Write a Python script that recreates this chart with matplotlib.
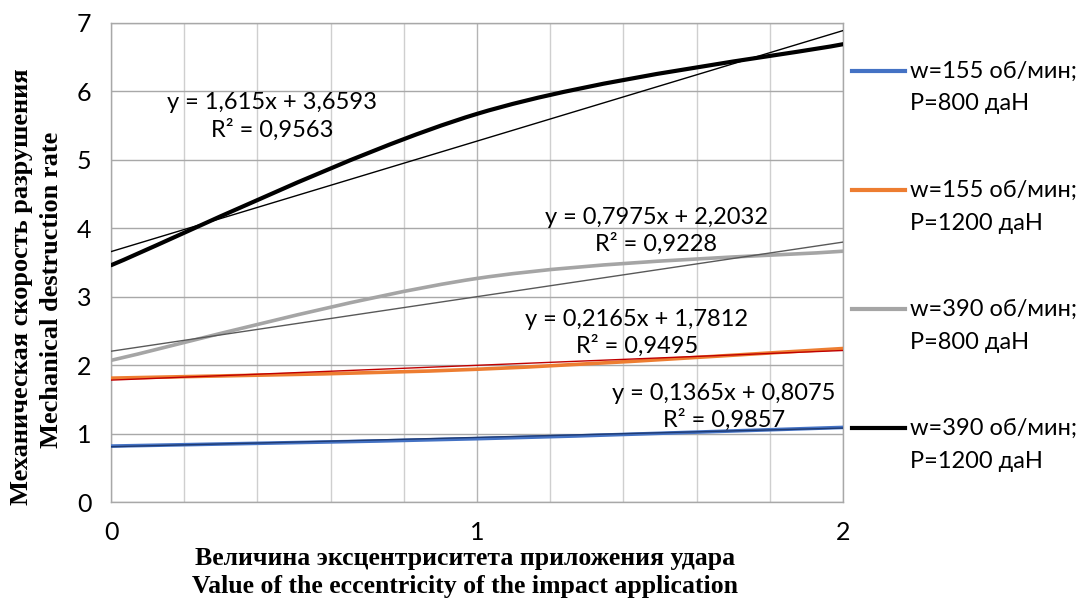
import matplotlib
matplotlib.use('Agg')
import matplotlib.pyplot as plt
from matplotlib.path import Path
from matplotlib.patches import PathPatch
from matplotlib.lines import Line2D
import numpy as np

#======================================================================
# Dados ===============================================================
#======================================================================

x_val = [0, 1, 2]

series_names = ['w=155 об/мин;\nP=800 даН',
                'w=155 об/мин;\nP=1200 даН',
                'w=390 об/мин;\nP=800 даН',
                'w=390 об/мин;\nP=1200 даН']

y_blue   = [0.817, 0.925, 1.090]
y_orange = [1.810, 1.940, 2.243]
y_gray   = [2.070, 3.267, 3.665]
y_black  = [3.460, 5.672, 6.690]

eq_texts = ['y = 0,1365x + 0,8075\nR² = 0,9857',
            'y = 0,2165x + 1,7812\nR² = 0,9495',
            'y = 0,7975x + 2,2032\nR² = 0,9228',
            'y = 1,615x + 3,6593\nR² = 0,9563']

#======================================================================
# Estilos =============================================================
#======================================================================

cores       = ['#4472C4', '#ED7D31', '#A5A5A5', '#000000']
cores_trend = ['#1F3B73', '#C00000', '#595959', '#000000']
eq_pos      = [(1.675, 1.39), (1.437, 2.47), (1.49, 3.96), (0.44, 5.63)]
leg_y       = [71, 190, 309, 428]

SANS = ['Lato', 'DejaVu Sans']
SERIF = ['Liberation Serif', 'DejaVu Serif']

W, H = 1083, 599
fig = plt.figure(figsize=(W/100, H/100), dpi=100)
ax = fig.add_axes([111/W, 1 - 502/H, (843-111)/W, (502-23)/H])

def smooth_path(xs, ys):
    # curva suavizada tipo Excel (Bezier cubica)
    p = list(zip(xs, ys))
    n = len(p)
    verts = [p[0]]
    codes = [Path.MOVETO]
    for i in range(n - 1):
        p0 = p[i - 1] if i > 0 else p[i]
        p1 = p[i]
        p2 = p[i + 1]
        p3 = p[i + 2] if i + 2 < n else p[i + 1]
        c1 = (p1[0] + (p2[0] - p0[0]) / 6, p1[1] + (p2[1] - p0[1]) / 6)
        c2 = (p2[0] - (p3[0] - p1[0]) / 6, p2[1] - (p3[1] - p1[1]) / 6)
        verts += [c1, c2, p2]
        codes += [Path.CURVE4] * 3
    return Path(verts, codes)

todas = [y_blue, y_orange, y_gray, y_black]

for k in range(4):
    yy = todas[k]
    lw = 3.0 if k == 3 else 2.6
    patch = PathPatch(smooth_path(x_val, yy), facecolor='none', edgecolor=cores[k],
                      linewidth=lw, zorder=3 + k, capstyle='round')
    ax.add_patch(patch)
    # linha de tendencia
    a, b = np.polyfit(x_val, yy, 1)
    xt = np.array([x_val[0], x_val[-1]])
    ax.plot(xt, a * xt + b, color=cores_trend[k], linewidth=1.0, zorder=8)
    ax.text(eq_pos[k][0], eq_pos[k][1], eq_texts[k], ha='center', va='center',
            fontsize=17, family=SANS, linespacing=1.3, zorder=9)

ax.set_xlim(0, 2)
ax.set_ylim(0, 7)
ax.set_xticks([0, 1, 2])
ax.set_xticks(np.arange(0, 2.01, 0.2), minor=True)
ax.set_yticks(range(8))
ax.grid(which='minor', axis='x', color='#CFCFCF', linewidth=1.0)
ax.grid(which='major', axis='x', color='#B4B4B4', linewidth=1.0)
ax.grid(which='major', axis='y', color='#A8A8A8', linewidth=1.0)
ax.tick_params(which='both', length=0)
ax.tick_params(axis='x', pad=14)
ax.tick_params(axis='y', pad=14)
for lab in ax.get_xticklabels() + ax.get_yticklabels():
    lab.set_family(SANS)
    lab.set_fontsize(18)
for s in ax.spines.values():
    s.set_color('#A8A8A8')
    s.set_linewidth(1.0)

# Legenda =============================================================

for k in range(4):
    yf = 1 - leg_y[k] / H
    fig.add_artist(Line2D([852/W, 905/W], [yf, yf], color=cores[k], linewidth=3.0))
    l1, l2 = series_names[k].split('\n')
    fig.text(910/W, yf, l1, ha='left', va='center', fontsize=17, family=SANS)
    fig.text(910/W, yf - 33/H, l2, ha='left', va='center', fontsize=17, family=SANS)

# Rotulos dos eixos ===================================================

fig.text(465/W, 1 - 559/H, 'Величина эксцентриситета приложения удара', ha='center', va='center',
         fontsize=18.5, fontweight='bold', family=SERIF)
fig.text(465/W, 1 - 587/H, 'Value of the eccentricity of the impact application', ha='center', va='center',
         fontsize=18.5, fontweight='bold', family=SERIF)
fig.text(22/W, 1 - 287/H, 'Механическая скорость разрушения', ha='center', va='center',
         rotation=90, fontsize=19, fontweight='bold', family=SERIF)
fig.text(52/W, 1 - 290/H, 'Mechanical destruction rate', ha='center', va='center',
         rotation=90, fontsize=19, fontweight='bold', family=SERIF)

plt.savefig('out.png', dpi=100)
